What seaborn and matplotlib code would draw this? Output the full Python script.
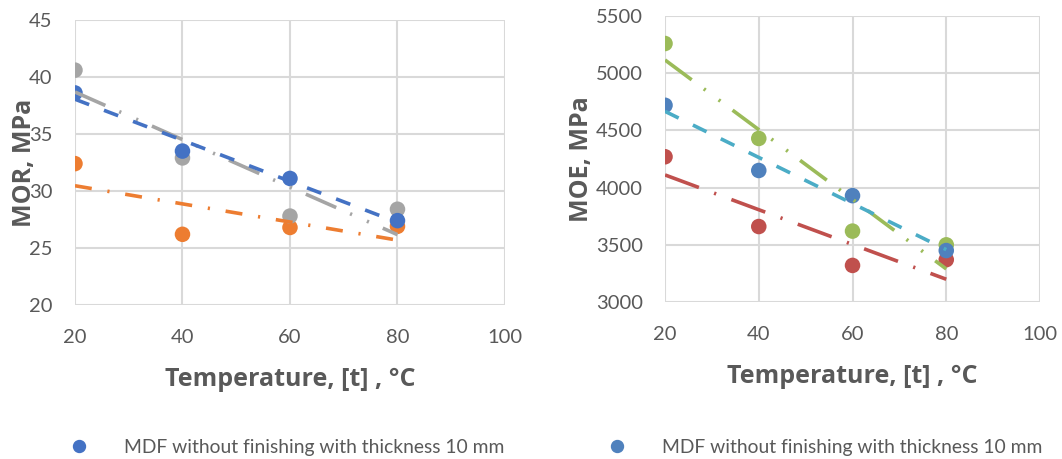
import matplotlib
matplotlib.use("Agg")
import matplotlib.pyplot as plt
from matplotlib.lines import Line2D
import seaborn as sns
import numpy as np
import pandas as pd

temps = [20, 40, 60, 80]

# MOR, MPa (left chart)
mor_10mm = [38.6, 33.5, 31.1, 27.4]
mor_b = [32.4, 26.2, 26.8, 26.9]
mor_c = [40.6, 32.9, 27.8, 28.4]

# MOE, MPa (right chart)
moe_10mm = [4720, 4150, 3930, 3450]
moe_b = [4270, 3660, 3320, 3370]
moe_c = [5260, 4430, 3620, 3500]

legend_label = "MDF without finishing with thickness 10 mm"

sns.set_theme(style="white")
plt.rcParams['font.family'] = ['Lato', 'DejaVu Sans']

fig = plt.figure(figsize=(10.62, 4.59), dpi=100)
ax1 = fig.add_axes([0.0706, 0.3355, 0.4049, 0.621])
ax2 = fig.add_axes([0.6262, 0.342, 0.3531, 0.623])

grid_col = '#D9D9D9'
tick_col = '#595959'
bold_font = ['Open Sans', 'DejaVu Sans']


def draw(ax, x, y, pt_col, ln_col, dash):
    sns.regplot(x=x, y=y, ax=ax, ci=None, scatter=False,
                line_kws=dict(color=ln_col, lw=2.6, linestyle=(0, dash)))
    sns.scatterplot(x=x, y=y, ax=ax, color=pt_col, s=125, edgecolor='none', zorder=1)


long_dash_dot = (10, 4.5, 0.6, 4.5)
long_dash_dot_dot = (9.2, 4.2, 0.6, 4.5, 0.6, 4.2)
dash_dot = (4.7, 4.4, 0.6, 4.4)
dashed = (4.2, 4.4)

draw(ax1, temps, mor_b, '#ED7D31', '#ED7D31', dash_dot)
draw(ax1, temps, mor_c, '#A5A5A5', '#A5A5A5', long_dash_dot_dot)
draw(ax1, temps, mor_10mm, '#4472C4', '#4472C4', dashed)

draw(ax2, temps, moe_b, '#C0504D', '#C0504D', long_dash_dot)
draw(ax2, temps, moe_c, '#9BBB59', '#9BBB59', long_dash_dot_dot)
draw(ax2, temps, moe_10mm, '#4F81BD', '#4BACC6', dashed)

for ax, ylim, yticks, ylab, lx in [
        (ax1, (20, 45), np.arange(20, 46, 5), 'MOR, MPa', -0.088),
        (ax2, (3000, 5500), np.arange(3000, 5501, 500), 'MOE, MPa', -0.19)]:
    ax.set_xlim(20, 100)
    ax.set_ylim(*ylim)
    ax.set_xticks([20, 40, 60, 80, 100])
    ax.set_yticks(yticks)
    ax.grid(True, color=grid_col, lw=1.5)
    for s in ax.spines.values():
        s.set_visible(False)
    ax.tick_params(axis='both', length=0, labelsize=14.5, labelcolor=tick_col)
    ax.tick_params(axis='x', pad=17)
    ax.tick_params(axis='y', pad=16)
    ax.set_xlabel('Temperature, [t] , °C', fontsize=18, fontweight='bold',
                  color=tick_col, family=bold_font)
    ax.xaxis.set_label_coords(0.5, -0.218)
    ax.set_ylabel(ylab, fontsize=18, fontweight='bold', color=tick_col,
                  family=bold_font)
    ax.yaxis.set_label_coords(lx, 0.5)

h1 = Line2D([], [], marker='o', ls='none', color='#4472C4', markersize=8.6)
h2 = Line2D([], [], marker='o', ls='none', color='#4F81BD', markersize=8.6)
for h, x0 in [(h1, 0.0655), (h2, 0.5721)]:
    fig.legend(handles=[h], labels=[legend_label], loc='center left',
               bbox_to_anchor=(x0, 0.026), frameon=False, fontsize=13.9,
               handlelength=1, handletextpad=1.8, borderpad=0, borderaxespad=0,
               labelcolor=tick_col)

fig.savefig('out.png', dpi=100)
